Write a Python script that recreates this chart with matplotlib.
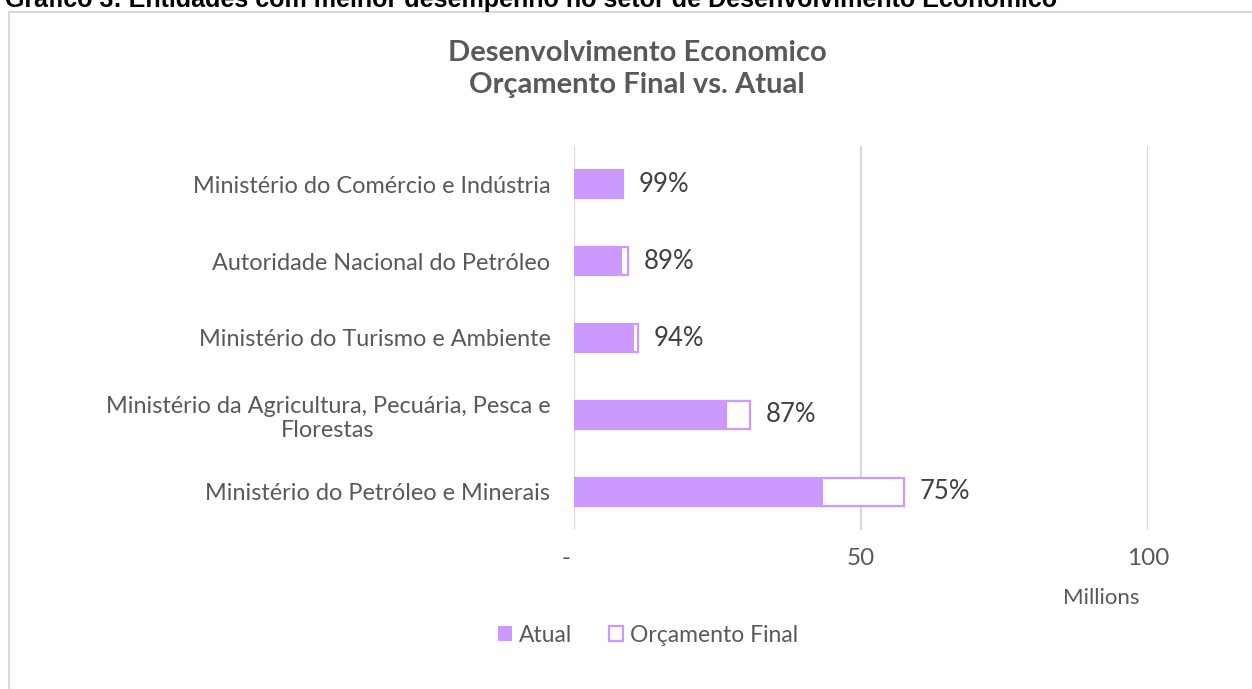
#!/usr/bin/env python3
"""
Gráfico 3: Desenvolvimento Economico - Orçamento Final vs. Atual
Horizontal overlay bars (Atual on top of Orçamento Final), values in millions.
"""
import matplotlib as mpl
import matplotlib.pyplot as plt
from matplotlib.patches import Patch
from matplotlib.lines import Line2D
from matplotlib.transforms import ScaledTranslation

mpl.rcParams.update({
    "font.family": ["Lato", "DejaVu Sans"],
    "font.size": 16,
    "text.color": "#595959",
})

# ---- data (millions), top to bottom ----
entidades = [
    "Ministério do Comércio e Indústria",
    "Autoridade Nacional do Petróleo",
    "Ministério do Turismo e Ambiente",
    "Ministério da Agricultura, Pecuária, Pesca e\nFlorestas",
    "Ministério do Petróleo e Minerais",
]
atual = [8.37, 8.3, 10.45, 26.6, 43.4]
orcamento_final = [8.45, 9.35, 11.15, 30.7, 57.5]
execucao_pct = [99, 89, 94, 87, 75]

x_ticks = [0, 50, 100]
x_ticklabels = ["-", "50", "100"]

LILAC = "#CC99FF"
GRID = "#D9D9D9"

W, H = 1252, 689
fig = plt.figure(figsize=(W / 100, H / 100), dpi=100)

# outer chart frame (left and top edges visible, rest cropped)
fig.add_artist(Line2D([9 / W, 9 / W], [0, 1 - 11.5 / H], color=GRID, lw=1.5))
fig.add_artist(Line2D([9 / W, 1], [1 - 11.5 / H, 1 - 11.5 / H], color=GRID, lw=1.5))

# report heading, cut off at the top of the picture
fig.text(5 / W, 1 - 7.5 / H,
         "Gráfico 3: Entidades com melhor desempenho no setor de Desenvolvimento Económico",
         family="Liberation Sans", fontweight="bold", fontsize=18, color="black",
         ha="left", va="baseline")

ax = fig.add_axes([574 / W, 1 - 530 / H, (1148 - 574) / W, (530 - 146) / H])

y = list(range(len(entidades)))
ax.barh(y, orcamento_final, height=0.365, color="white", edgecolor=LILAC,
        linewidth=1.6, zorder=3, label="Orçamento Final")
ax.barh(y, atual, height=0.365, color=LILAC, edgecolor="none", zorder=4,
        label="Atual")

for yi, fin, pct in zip(y, orcamento_final, execucao_pct):
    ax.annotate(f"{pct}%", (fin, yi), xytext=(16, 0), textcoords="offset pixels",
                ha="left", va="center", fontsize=18.5, color="#404040")

ax.set_xlim(0, 100)
ax.set_ylim(len(entidades) - 0.5, -0.5)
ax.set_xticks(x_ticks)
ax.set_xticklabels(x_ticklabels)
ax.set_yticks(y)
ax.set_yticklabels(entidades, multialignment="center", fontsize=16.9)
ax.tick_params(axis="both", length=0, colors="#595959")
ax.tick_params(axis="x", labelsize=17.5, pad=13)
ax.tick_params(axis="y", pad=17)
lab0 = ax.get_xticklabels()[0]
lab0.set_transform(lab0.get_transform() + ScaledTranslation(-0.08, 0, fig.dpi_scale_trans))

ax.grid(axis="x", color=GRID, linewidth=1.5, zorder=0)
ax.set_axisbelow(True)
for s in ax.spines.values():
    s.set_visible(False)

# title
fig.text(637 / W, 1 - 69 / H, "Desenvolvimento Economico\nOrçamento Final vs. Atual",
         ha="center", va="center", fontsize=21, fontweight="bold", color="#595959",
         linespacing=1.3)

fig.text(1101 / W, 1 - 598 / H, "Millions", ha="center", va="center", fontsize=16)

handles = [Patch(facecolor=LILAC, edgecolor="none"),
           Patch(facecolor="white", edgecolor=LILAC, linewidth=1.6)]
fig.legend(handles, ["Atual", "Orçamento Final"], loc="center",
           bbox_to_anchor=(648 / W, 1 - 635 / H), ncol=2, frameon=False,
           fontsize=16.5, handlelength=0.6, handleheight=0.6,
           handletextpad=0.3, columnspacing=1.6)

fig.savefig("out.png", dpi=100)
